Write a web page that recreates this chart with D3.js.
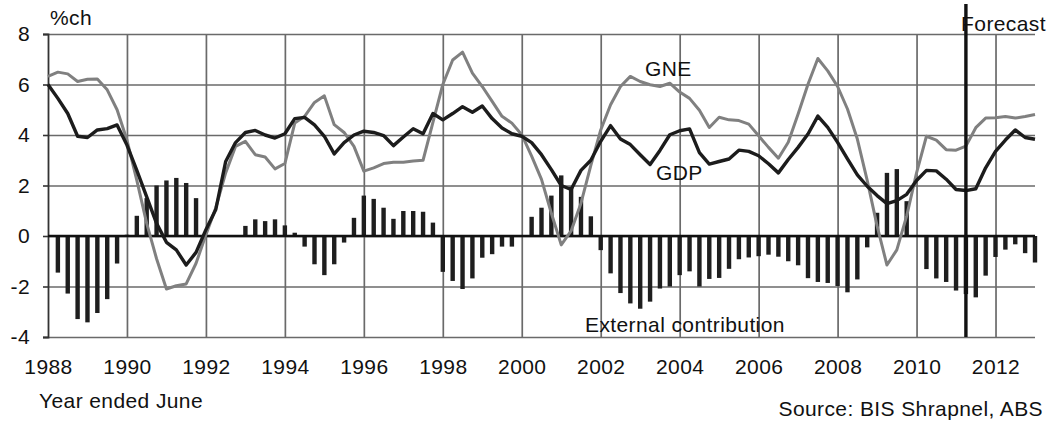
<!DOCTYPE html>
<html>
<head>
<meta charset="utf-8">
<script src="https://cdn.jsdelivr.net/npm/d3@7"></script>
<style>
  html, body { margin: 0; padding: 0; background: #fff; }
  svg text { font-family: "Liberation Sans", Arial, sans-serif; fill: #111; letter-spacing: 0.4px; }
</style>
</head>
<body>
<svg id="chart" width="1050" height="421"></svg>
<script>
// quarterly, year ended June, starting 1988.0
const firstYear = 1988;
const gdp = [
  6.0, 5.45, 4.85, 3.95, 3.9, 4.2, 4.25, 4.4,
  3.6, 2.6, 1.55, 0.5, -0.25, -0.55, -1.15, -0.65,
  0.25, 1.05, 2.95, 3.7, 4.1, 4.18, 4.0, 3.88,
  4.05, 4.65, 4.7, 4.4, 3.95, 3.25, 3.7, 4.0,
  4.15, 4.1, 3.98, 3.58, 3.92, 4.25, 4.05, 4.85,
  4.6, 4.85, 5.12, 4.9, 5.15, 4.65, 4.28, 4.05,
  3.95, 3.7, 3.22, 2.63, 2.0, 1.84, 2.6, 3.0,
  3.75, 4.37, 3.84, 3.62, 3.22, 2.83, 3.39, 4.01,
  4.17, 4.24, 3.3, 2.85, 2.95, 3.05, 3.4, 3.35,
  3.18, 2.86, 2.5, 3.03, 3.51, 4.04, 4.75, 4.3,
  3.71, 3.05, 2.42, 1.97, 1.6, 1.28, 1.4, 1.65,
  2.2, 2.6, 2.58, 2.25, 1.84, 1.8, 1.87, 2.7,
  3.35, 3.8, 4.2, 3.9, 3.83
];
const gne = [
  6.32, 6.49, 6.42, 6.12, 6.21, 6.22, 5.79, 5.0,
  3.8, 2.2, 0.5, -0.9, -2.1, -1.97, -1.9, -1.08,
  0.05, 1.12, 2.5, 3.55, 3.75, 3.22, 3.13, 2.66,
  2.87, 4.47, 4.74, 5.29, 5.55, 4.41, 4.1, 3.55,
  2.57, 2.7, 2.87, 2.92, 2.92, 2.97, 3.0, 4.5,
  6.0, 6.97, 7.28, 6.45, 5.92, 5.33, 4.74, 4.47,
  4.01, 3.16, 2.24, 0.9, -0.35, 0.2, 1.3, 2.8,
  4.2, 5.2, 5.92, 6.32, 6.12, 5.99, 5.92, 6.05,
  5.7, 5.45, 4.98, 4.3, 4.7, 4.6, 4.57, 4.43,
  3.97, 3.51, 3.08, 3.71, 4.83, 6.01, 7.03, 6.54,
  5.92, 5.03, 3.84, 2.2, 0.4, -1.15, -0.55, 0.8,
  2.5, 3.95, 3.8, 3.42, 3.4, 3.56, 4.29, 4.67,
  4.68, 4.73, 4.67, 4.73, 4.81
];
const external = [
  0, -1.45, -2.28, -3.29, -3.42, -3.05, -2.5, -1.09,
  0.05, 0.8, 1.5, 2.0, 2.2, 2.3, 2.1, 1.5,
  0, 0, 0, 0, 0.4, 0.66, 0.59, 0.66,
  0.42, 0.13, -0.42, -1.12, -1.55, -1.12, -0.26, 0.72,
  1.6, 1.47, 1.12, 0.68, 0.99, 0.99, 0.96, 0.53,
  -1.42, -1.78, -2.1, -1.68, -0.86, -0.72, -0.42, -0.42,
  0, 0.76, 1.12, 1.6, 2.4, 1.95, 1.55, 0.78,
  -0.56, -1.48, -2.26, -2.67, -2.88, -2.6, -2.08, -2.0,
  -1.55, -1.4, -2.0, -1.7, -1.66, -1.3, -0.92, -0.85,
  -0.8, -0.74, -0.82, -1.0, -1.16, -1.67, -1.82, -1.86,
  -1.98, -2.23, -1.72, -0.45, 0.92, 2.5, 2.65, 1.38,
  0, -1.31, -1.68, -1.82, -2.16, -2.3, -2.43, -1.57,
  -0.83, -0.54, -0.33, -0.68, -1.05
];
const yTicks = [-4, -2, 0, 2, 4, 6, 8];
const xTicks = [1988, 1990, 1992, 1994, 1996, 1998, 2000, 2002, 2004, 2006, 2008, 2010, 2012];
const forecastStart = 2011.25;

const svg = d3.select("#chart");
const M = { left: 48, right: 15, top: 34, bottom: 84 };
const W = 1050, H = 421;
const FS = 21;

const x = d3.scaleLinear().domain([1988, 2013]).range([M.left, W - M.right]);
const y = d3.scaleLinear().domain([-4, 8]).range([H - M.bottom, M.top]);
const yr = i => firstYear + i / 4;

// horizontal grid
svg.append("g")
  .attr("transform", `translate(${M.left},0)`)
  .call(d3.axisLeft(y).tickValues(yTicks).tickSize(-(x(2013) - M.left)).tickFormat(""))
  .call(g => g.select(".domain").remove())
  .call(g => g.selectAll("line").attr("stroke", "#6a6a6a").attr("stroke-width", 1.7));

// vertical grid
svg.append("g")
  .attr("transform", `translate(0,${y(-4)})`)
  .call(d3.axisBottom(x).tickValues(xTicks.slice(1)).tickSize(-(y(-4) - y(8))).tickFormat(""))
  .call(g => g.select(".domain").remove())
  .call(g => g.selectAll("line").attr("stroke", "#6a6a6a").attr("stroke-width", 1.7));

// left axis with tick labels (plain hyphen minus as in the original)
const yAxis = svg.append("g")
  .attr("transform", `translate(${M.left},0)`)
  .call(d3.axisLeft(y).tickValues(yTicks).tickSize(5).tickPadding(13).tickFormat(d => String(d)));
yAxis.select(".domain").attr("stroke", "#333").attr("stroke-width", 1.8);
yAxis.selectAll("line").attr("stroke", "#333").attr("stroke-width", 1.6);
yAxis.selectAll("text").attr("font-size", FS).attr("fill", "#111")
  .attr("font-family", "Liberation Sans, Arial, sans-serif");

// bottom year labels
const xAxis = svg.append("g")
  .attr("transform", `translate(0,${y(-4)})`)
  .call(d3.axisBottom(x).tickValues(xTicks).tickSize(0).tickPadding(22).tickFormat(d => String(d)));
xAxis.select(".domain").remove();
xAxis.selectAll("text").attr("font-size", FS).attr("fill", "#111")
  .attr("font-family", "Liberation Sans, Arial, sans-serif");

// external contribution bars
svg.append("g").selectAll("rect")
  .data(external)
  .join("rect")
  .attr("x", (d, i) => x(yr(i)) - 2.2)
  .attr("width", 4.4)
  .attr("y", d => y(Math.max(0, d)))
  .attr("height", d => Math.abs(y(d) - y(0)))
  .attr("fill", "#1e1e1e");

// zero line
svg.append("line")
  .attr("x1", x(1988)).attr("x2", x(2013))
  .attr("y1", y(0)).attr("y2", y(0))
  .attr("stroke", "#111").attr("stroke-width", 2.4);

const line = d3.line().x((d, i) => x(yr(i))).y(d => y(d));

svg.append("path").datum(gne)
  .attr("fill", "none").attr("stroke", "#808080").attr("stroke-width", 3)
  .attr("stroke-linejoin", "round").attr("d", line);

svg.append("path").datum(gdp)
  .attr("fill", "none").attr("stroke", "#1c1c1c").attr("stroke-width", 3.4)
  .attr("stroke-linejoin", "round").attr("d", line);

// forecast divider
svg.append("line")
  .attr("x1", x(forecastStart)).attr("x2", x(forecastStart))
  .attr("y1", 4).attr("y2", y(-4))
  .attr("stroke", "#111").attr("stroke-width", 3.4);

const label = (tx, ty, s, anchor) => svg.append("text")
  .attr("x", tx).attr("y", ty).attr("font-size", FS)
  .attr("text-anchor", anchor || "start").text(s);

label(50, 25, "%ch");
label(1046, 31, "Forecast", "end");
label(645, 76, "GNE");
label(656, 180, "GDP");
label(585, 332, "External contribution");
label(39, 408, "Year ended June");
label(1043, 416, "Source: BIS Shrapnel, ABS", "end");
</script>
</body>
</html>
